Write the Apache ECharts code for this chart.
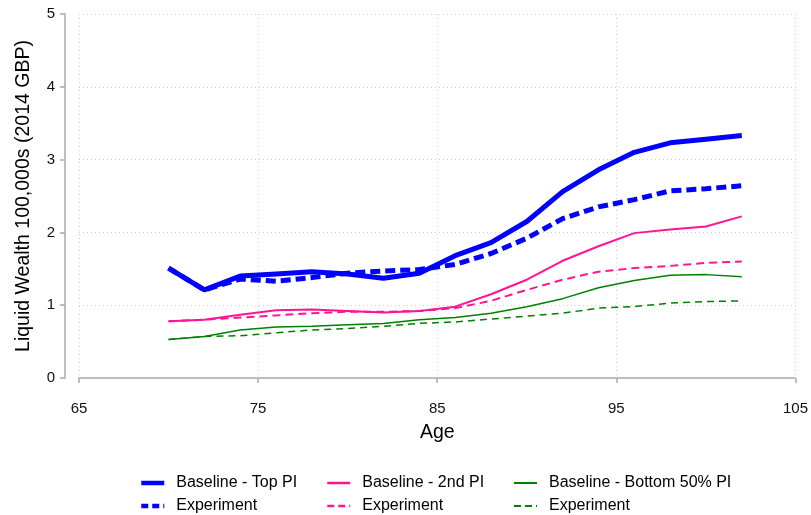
<!DOCTYPE html>
<html>
<head>
<meta charset="utf-8">
<script src="https://cdn.jsdelivr.net/npm/echarts@6/dist/echarts.min.js"></script>
<style>html,body{margin:0;padding:0;background:#fff}#c{width:811px;height:515px}</style>
</head>
<body>
<div id="c"></div>
<script>
var ages = [70,72,74,76,78,80,82,84,86,88,90,92,94,96,98,100,102];
var xTicks = [65,75,85,95,105];
var yTicks = [0,1,2,3,4,5];
var baseTop = [1.51,1.21,1.40,1.43,1.46,1.43,1.37,1.44,1.68,1.86,2.15,2.56,2.86,3.10,3.23,3.28,3.33];
var expTop  = [1.51,1.21,1.36,1.33,1.38,1.44,1.47,1.49,1.56,1.71,1.92,2.19,2.35,2.45,2.57,2.60,2.64];
var base2nd = [0.78,0.80,0.87,0.93,0.94,0.92,0.90,0.92,0.98,1.15,1.35,1.61,1.81,1.99,2.04,2.08,2.22];
var exp2nd  = [0.78,0.80,0.83,0.86,0.89,0.91,0.91,0.92,0.96,1.06,1.21,1.35,1.46,1.51,1.54,1.58,1.60];
var baseBot = [0.53,0.57,0.66,0.70,0.71,0.73,0.75,0.80,0.83,0.89,0.98,1.09,1.24,1.34,1.41,1.42,1.39];
var expBot  = [0.53,0.57,0.58,0.62,0.66,0.68,0.71,0.75,0.77,0.81,0.85,0.89,0.96,0.98,1.03,1.05,1.06];
var legendNames = {
  bTop: 'Baseline - Top PI', b2: 'Baseline - 2nd PI', bBot: 'Baseline - Bottom 50% PI',
  eTop: 'Experiment', e2: 'Experiment', eBot: 'Experiment'
};

function pairs(v){ return ages.map(function(a,i){ return [a, v[i]]; }); }
var FONT = 'Liberation Sans, Arial, sans-serif';
function mk(id, data, color, width, type){
  return { id: id, name: id, type: 'line', data: pairs(data), symbol: 'none', smooth: false,
    lineStyle: { color: color, width: width, type: type, cap: 'butt' }, itemStyle: { color: color },
    emphasis: { disabled: true }, animation: false, z: 3 };
}
function lg(id, left, top, width, dashed){
  return { data: [id], left: left, top: top, itemWidth: 23, itemHeight: 14, orient: 'horizontal',
    padding: 0,
    formatter: function(n){ return legendNames[n]; }, selectedMode: false,
    itemStyle: { opacity: 0 },
    lineStyle: { width: width, type: dashed ? [7,4] : 'solid', cap: 'butt' },
    textStyle: { fontFamily: FONT, fontSize: 16, color: '#000', padding: [0,0,0,7] } };
}
var chart = echarts.init(document.getElementById('c'), null, { renderer: 'canvas' });
chart.setOption({
  animation: false,
  backgroundColor: '#fff',
  grid: { left: 79, right: 14, top: 14, bottom: 137, containLabel: false },
  xAxis: {
    type: 'value', min: 65, max: 105, interval: 10, offset: 13,
    name: 'Age', nameLocation: 'middle', nameGap: 32,
    nameTextStyle: { fontFamily: FONT, fontSize: 19.5, color: '#000' },
    axisLine: { show: true, lineStyle: { color: '#aaaaaa', width: 1.5 } },
    axisTick: { show: true, length: 5, lineStyle: { color: '#aaaaaa', width: 1.5 } },
    axisLabel: { fontFamily: FONT, fontSize: 15, color: '#111', margin: 10,
      formatter: function(v){ return xTicks.indexOf(v) >= 0 ? String(v) : ''; } },
    splitLine: { show: true, lineStyle: { color: '#d0d0d0', type: [1,3], width: 1 } }
  },
  yAxis: {
    type: 'value', min: 0, max: 5, interval: 1, offset: 14,
    name: 'Liquid Wealth 100,000s (2014 GBP)', nameLocation: 'middle', nameGap: 31,
    nameTextStyle: { fontFamily: FONT, fontSize: 19.5, color: '#000' },
    axisLine: { show: true, lineStyle: { color: '#aaaaaa', width: 1.5 } },
    axisTick: { show: true, length: 5, lineStyle: { color: '#aaaaaa', width: 1.5 } },
    axisLabel: { fontFamily: FONT, fontSize: 15, color: '#111', margin: 10,
      formatter: function(v){ return yTicks.indexOf(v) >= 0 ? String(v) : ''; } },
    splitLine: { show: true, lineStyle: { color: '#d0d0d0', type: [1,3], width: 1 } }
  },
  legend: [
    lg('bTop', 139, 475, 4.5, false), lg('b2', 326, 475, 2.5, false), lg('bBot', 513, 475, 2, false),
    lg('eTop', 139, 498, 4.5, true), lg('e2', 326, 498, 2.5, true), lg('eBot', 513, 498, 2, true)
  ],
  series: [
    mk('bTop', baseTop, '#0000ff', 5, 'solid'),
    mk('eTop', expTop, '#0000ff', 5, [10,5]),
    mk('b2', base2nd, '#ff1493', 2, 'solid'),
    mk('e2', exp2nd, '#ff1493', 2, [8,5]),
    mk('bBot', baseBot, '#008000', 1.5, 'solid'),
    mk('eBot', expBot, '#008000', 1.5, [7,5])
  ]
});
</script>
</body>
</html>
